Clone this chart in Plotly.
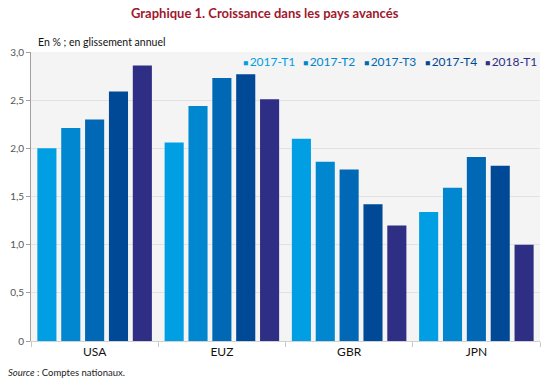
import plotly.graph_objects as go

categories = ["USA", "EUZ", "GBR", "JPN"]
series_names = ["2017-T1", "2017-T2", "2017-T3", "2017-T4", "2018-T1"]
values = {
    "2017-T1": [2.00, 2.06, 2.10, 1.34],
    "2017-T2": [2.21, 2.44, 1.86, 1.59],
    "2017-T3": [2.30, 2.73, 1.78, 1.91],
    "2017-T4": [2.59, 2.77, 1.42, 1.82],
    "2018-T1": [2.86, 2.51, 1.20, 1.00],
}
colors = ["#009fe3", "#0087cf", "#0068b4", "#004996", "#2e2e84"]
ytick_vals = [0, 0.5, 1.0, 1.5, 2.0, 2.5, 3.0]
ytick_text = ["0", "0,5", "1,0", "1,5", "2,0", "2,5", "3,0"]

FONT = "Lato"
W, H = 550, 386
L, R, T, B = 28, 10, 52, 45
PW = W - L - R
PH = H - T - B


def px_x(x):
    return (x - L) / PW


def px_y(y):
    return (H - B - y) / PH


fig = go.Figure()
for name, col in zip(series_names, colors):
    fig.add_trace(go.Bar(x=categories, y=values[name], name=name,
                         marker=dict(color=col, line=dict(width=0)),
                         showlegend=False))

# legend as annotations
for i, (name, col) in enumerate(zip(series_names, colors)):
    fig.add_annotation(x=px_x(239 + i * 61), y=px_y(62),
                       xref="paper", yref="paper", xanchor="left", yanchor="middle",
                       showarrow=False,
                       text=f"<span style='font-size:8.5px'>■</span>\u2009{name}",
                       font=dict(family=FONT, size=12, color=col))

fig.add_annotation(x=px_x(263), y=px_y(13), xref="paper", yref="paper",
                   xanchor="center", yanchor="middle", showarrow=False,
                   text="<b>Graphique 1. Croissance dans les pays avancés</b>",
                   font=dict(family=FONT, size=13, color="#a0182d"))
fig.add_annotation(x=px_x(33), y=px_y(42), xref="paper", yref="paper",
                   xanchor="left", yanchor="middle", showarrow=False,
                   text="En % ; en glissement annuel",
                   font=dict(family=FONT, size=10.5, color="#111"))
fig.add_annotation(x=px_x(3), y=px_y(372), xref="paper", yref="paper",
                   xanchor="left", yanchor="middle", showarrow=False,
                   text="<i>Source</i> : Comptes nationaux.",
                   font=dict(family=FONT, size=9.5, color="#222"))

fig.update_layout(
    width=W, height=H,
    margin=dict(l=L, r=R, t=T, b=B),
    paper_bgcolor="white", plot_bgcolor="#f4f4f4",
    barmode="group", bargap=0.0625, bargroupgap=0.2,
    font=dict(family=FONT),
    showlegend=False,
)
fig.update_xaxes(showline=True, linecolor="#d0d0d0", linewidth=1,
                 ticks="outside", tickson="boundaries", ticklen=5, tickcolor="#c8c8c8",
                 tickfont=dict(family=FONT, size=12, color="#111"),
                 showgrid=False)
fig.update_yaxes(range=[0, 3], tickvals=ytick_vals, ticktext=ytick_text,
                 showline=True, linecolor="#a0a0a0", linewidth=1,
                 ticks="outside", ticklen=4, tickcolor="#a0a0a0",
                 tickfont=dict(family=FONT, size=10, color="#555"),
                 gridcolor="#e2e2e2", gridwidth=1, zeroline=False)

fig.write_html("out.html", config={"displayModeBar": False},
               post_script="document.body.style.margin='0px';")
